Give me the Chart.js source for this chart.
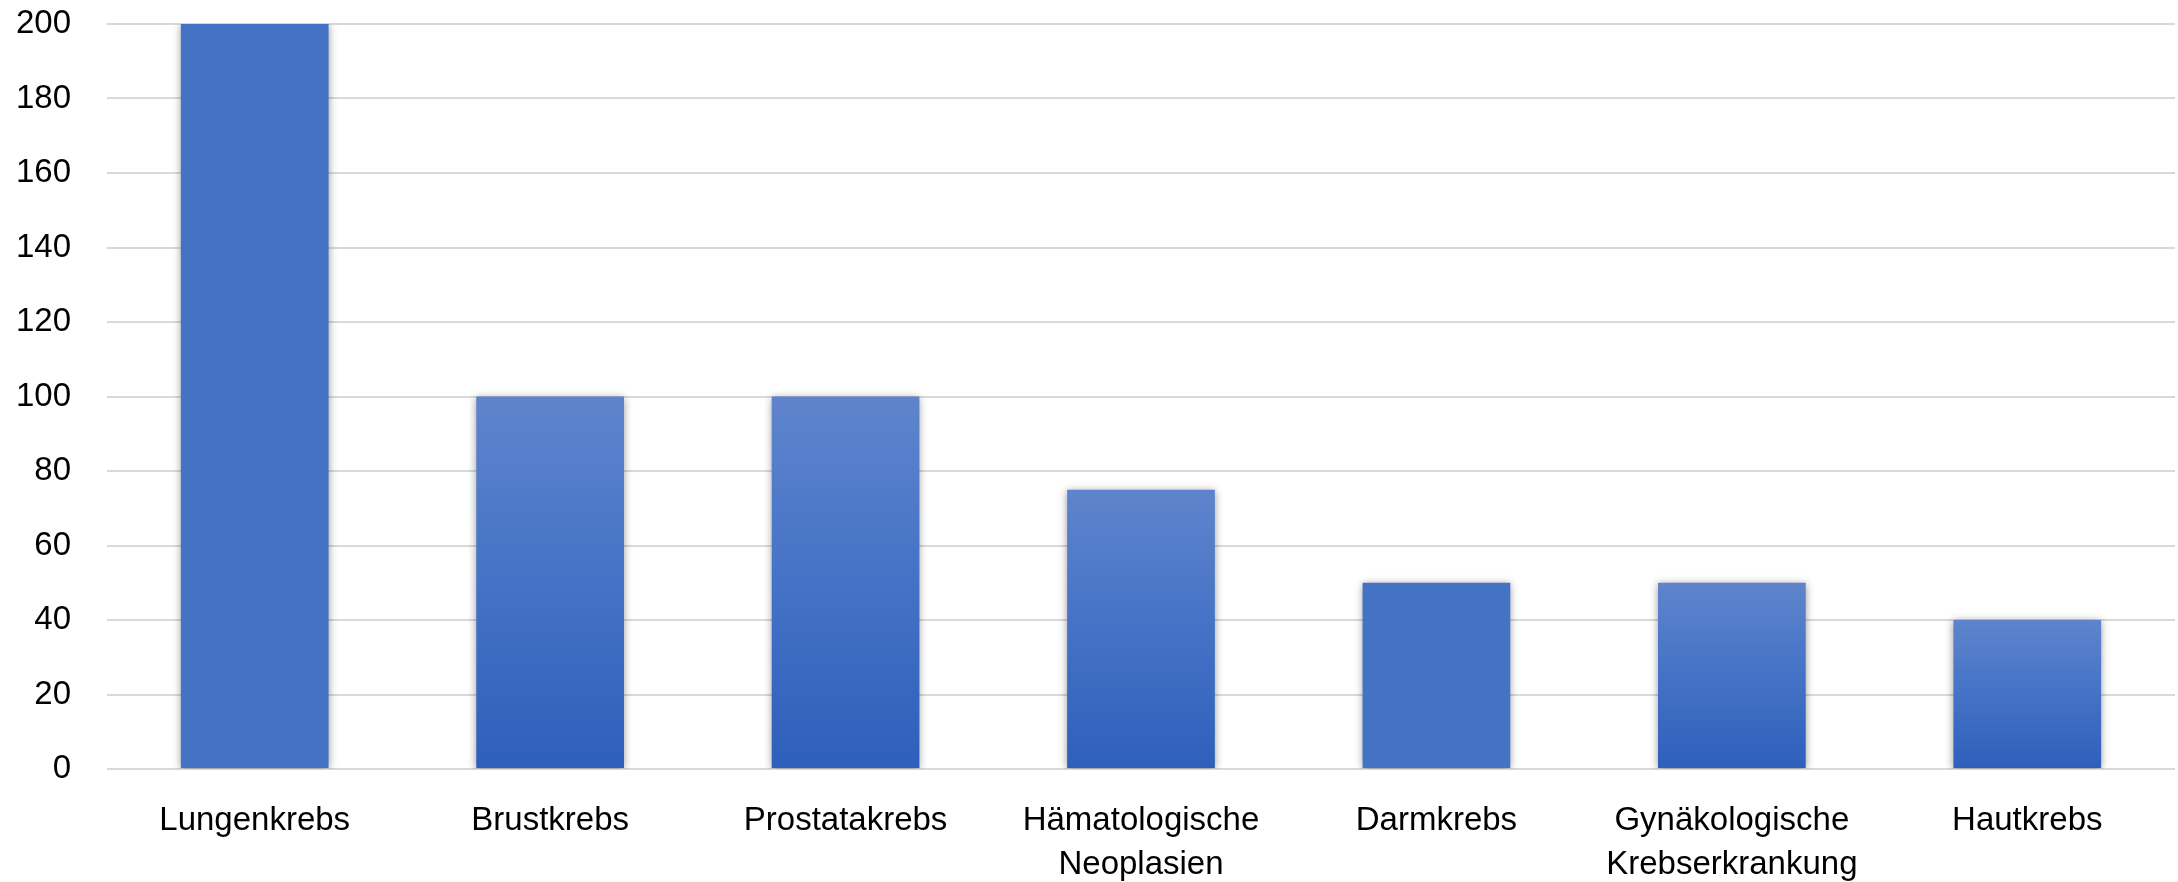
<!DOCTYPE html>
<html>
<head>
<meta charset="utf-8">
<script src="https://cdn.jsdelivr.net/npm/chart.js@4"></script>
<style>
    html, body { margin: 0; padding: 0; background: #fff; }
    #wrap { width: 2178px; height: 882px; }
</style>
</head>
<body>
<div id="wrap"><canvas id="cancerChart"></canvas></div>
<script>
const labels = [
    'Lungenkrebs',
    'Brustkrebs',
    'Prostatakrebs',
    ['Hämatologische', 'Neoplasien'],
    'Darmkrebs',
    ['Gynäkologische', 'Krebserkrankung'],
    'Hautkrebs',
];
const values = [200, 100, 100, 75, 50, 50, 40];
const gradientBars = [false, true, true, true, false, true, true];
const yTicks = [0, 20, 40, 60, 80, 100, 120, 140, 160, 180, 200];

const flatColor = '#4472C4';

function barColor(context) {
    const chart = context.chart;
    const i = context.dataIndex;
    if (!chart.chartArea || !gradientBars[i]) {
        return flatColor;
    }
    const y = chart.scales.y;
    const top = y.getPixelForValue(values[i]);
    const bottom = y.getPixelForValue(0);
    const g = chart.ctx.createLinearGradient(0, top, 0, bottom);
    g.addColorStop(0, '#5F84CC');
    g.addColorStop(0.5, '#4472C6');
    g.addColorStop(1, '#2E5FBA');
    return g;
}

// soft shadow behind the bars, like the office chart
const barShadow = {
    id: 'barShadow',
    beforeDatasetsDraw(chart) {
        const ctx = chart.ctx;
        ctx.save();
        ctx.shadowColor = 'rgba(0, 0, 0, 0.4)';
        ctx.shadowBlur = 8;
        ctx.shadowOffsetX = 0;
        ctx.shadowOffsetY = 1;
    },
    afterDatasetsDraw(chart) {
        chart.ctx.restore();
    },
};

const font = { family: '"Liberation Sans", Arial, sans-serif', size: 33 };

new Chart(document.getElementById('cancerChart'), {
    type: 'bar',
    data: {
        labels,
        datasets: [
            {
                label: 'Anzahl',
                data: values,
                backgroundColor: barColor,
                borderWidth: 0,
                categoryPercentage: 1,
                barPercentage: 0.5,
            },
        ],
    },
    options: {
        responsive: true,
        maintainAspectRatio: false,
        animation: false,
        layout: {
            padding: { left: 17, right: 3, top: 24, bottom: 0 },
        },
        plugins: {
            legend: { display: false },
            tooltip: { enabled: false },
        },
        scales: {
            x: {
                grid: { display: false, drawTicks: false },
                border: { display: false },
                ticks: {
                    color: '#000',
                    font: { ...font, lineHeight: 1.36 },
                    padding: 29,
                    maxRotation: 0,
                    autoSkip: false,
                },
                afterFit(axis) {
                    axis.height = 113;
                    axis.paddingLeft = 0;
                    axis.paddingRight = 0;
                },
            },
            y: {
                min: 0,
                max: 200,
                afterBuildTicks(axis) {
                    axis.ticks = yTicks.map((v) => ({ value: v }));
                },
                grid: { color: '#D9D9D9', lineWidth: 2, drawTicks: false },
                border: { display: false },
                ticks: {
                    color: '#000',
                    font,
                    padding: 36,
                },
                afterFit(axis) {
                    axis.width = 90;
                    axis.paddingTop = 0;
                    axis.paddingBottom = 0;
                },
            },
        },
    },
    plugins: [barShadow],
});
</script>
</body>
</html>
